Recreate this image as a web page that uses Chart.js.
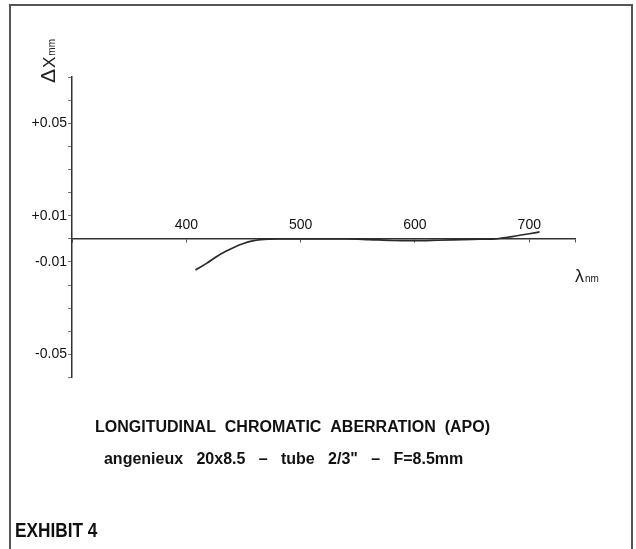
<!DOCTYPE html>
<html>
<head>
<meta charset="utf-8">
<title>Longitudinal chromatic aberration (APO)</title>
<script src="https://cdn.jsdelivr.net/npm/chart.js@4.4.1/dist/chart.umd.min.js"></script>
<style>
  html, body { margin: 0; padding: 0; background: #fff; }
  #wrap { position: relative; width: 636px; height: 549px; overflow: hidden; }
  #frame { position: absolute; left: 9px; top: 4px; width: 620px; height: 560px;
           border: 2px solid #555; border-bottom: none; }
  #chart { position: absolute; left: 0; top: 0; }
  #exhibit { position: absolute; left: 15px; top: 519px; font: bold 21px "Liberation Sans", Arial, sans-serif;
             line-height: 21px; color: #111; transform: scaleX(0.82); transform-origin: left top; white-space: pre; }
</style>
</head>
<body>
<div id="wrap">
  <div id="frame"></div>
  <canvas id="chart" width="636" height="549"></canvas>
  <div id="exhibit">EXHIBIT 4</div>
</div>
<script>
// valeurs (longueur d'onde en nm, écart en mm)
const wavelength = [408, 418, 427, 435, 442, 450, 457, 465, 480, 500, 540, 560, 580, 600, 620, 650, 670, 685, 700, 709];
const deltaX = [-0.0135, -0.0105, -0.0075, -0.0053, -0.0036, -0.002, -0.001, -0.0003, 0, 0, 0, -0.0003, -0.0007, -0.0008, -0.0006, -0.0002, 0, 0.001, 0.0022, 0.003];

// graduations
const xLabelValues = [400, 500, 600, 700];
const yLabelValues = [0.05, 0.01, -0.01, -0.05];
const xBounds = [300, 740];
const yBounds = [-0.06, 0.07];

const FONT = '"Liberation Sans", Arial, sans-serif';

// noms des axes (ΔXmm vertical, λnm à droite)
function drawParts(ctx, parts) {
    let pos = 0;
    parts.forEach(([txt, size]) => {
        ctx.font = size + 'px ' + FONT;
        ctx.fillText(txt, pos, 0);
        pos += ctx.measureText(txt).width + 1;
    });
}

const axisNames = {
    id: 'axisNames',
    afterDraw(chart) {
        const { ctx } = chart;
        const x = chart.scales.x;
        const y = chart.scales.y;
        ctx.save();
        ctx.fillStyle = '#222';
        ctx.textAlign = 'left';
        ctx.textBaseline = 'alphabetic';
        ctx.translate(y.right - 17, y.top + 6);
        ctx.rotate(-Math.PI / 2);
        drawParts(ctx, [['Δ', 21], ['X', 17], ['mm', 10]]);
        ctx.restore();

        ctx.save();
        ctx.fillStyle = '#222';
        ctx.textBaseline = 'alphabetic';
        ctx.translate(x.right, y.getPixelForValue(0) + 43);
        drawParts(ctx, [['λ', 18], ['nm', 10]]);
        ctx.restore();
    }
};

function yTick(value) {
    const hit = yLabelValues.find(v => Math.abs(v - value) < 1e-6);
    if (hit === undefined) return '';
    return (hit > 0 ? '+' : '') + hit.toFixed(2);
}

function xTick(value) {
    return xLabelValues.includes(Math.round(value)) ? String(Math.round(value)) : '';
}

new Chart(document.getElementById('chart').getContext('2d'), {
    type: 'line',
    data: {
        datasets: [{
            data: wavelength.map((w, i) => ({ x: w, y: deltaX[i] })),
            borderColor: '#2a2a2a',
            borderWidth: 1.7,
            pointRadius: 0,
            fill: false,
            cubicInterpolationMode: 'monotone'
        }]
    },
    options: {
        responsive: false,
        animation: false,
        layout: { padding: { left: 10, top: 77, right: 61, bottom: 80 } },
        plugins: {
            legend: { display: false },
            tooltip: { enabled: false },
            title: {
                display: true,
                position: 'bottom',
                weight: 1000,
                text: 'LONGITUDINAL  CHROMATIC  ABERRATION  (APO)',
                color: '#111',
                font: { family: FONT, size: 16, weight: 'bold' },
                padding: { top: 40, bottom: 0 }
            },
            subtitle: {
                display: true,
                position: 'bottom',
                weight: 1500,
                // espaces finales : décale la ligne comme sur l'original
                text: 'angenieux   20x8.5   –   tube   2/3"   –   F=8.5mm    ',
                color: '#111',
                font: { family: FONT, size: 16, weight: 'bold' },
                padding: { top: 13, bottom: 0 }
            }
        },
        scales: {
            x: {
                type: 'linear',
                position: { y: 0 },
                min: xBounds[0],
                max: xBounds[1],
                border: { color: '#333', width: 1.5 },
                grid: { drawOnChartArea: false, drawTicks: true, tickLength: 3, color: '#555' },
                ticks: {
                    stepSize: 100,
                    autoSkip: false,
                    maxRotation: 0,
                    padding: -25,
                    color: '#111',
                    font: { family: FONT, size: 14 },
                    callback: xTick
                }
            },
            y: {
                type: 'linear',
                position: 'left',
                min: yBounds[0],
                max: yBounds[1],
                afterFit(scale) { scale.width = 62; },
                border: { color: '#333', width: 1.5 },
                grid: { drawOnChartArea: false, drawTicks: true, tickLength: 4, color: '#777' },
                ticks: {
                    stepSize: 0.01,
                    autoSkip: false,
                    padding: 1,
                    color: '#111',
                    font: { family: FONT, size: 14 },
                    callback: yTick
                }
            }
        }
    },
    plugins: [axisNames]
});
</script>
</body>
</html>
